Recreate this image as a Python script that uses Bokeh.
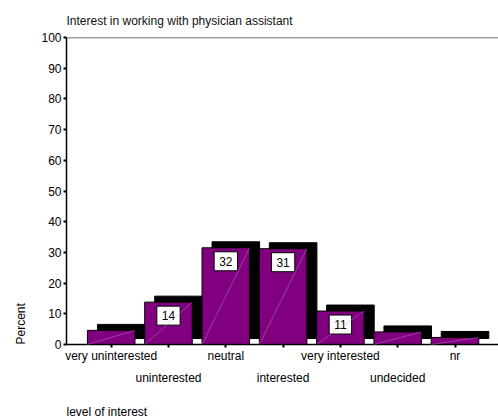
from bokeh.plotting import figure
from bokeh.models import (Range1d, LinearAxis, FixedTicker, Span, Label, Title,
                          ColumnDataSource)
from bokeh.embed import file_html
from bokeh.resources import INLINE

# ---- data ----
categories = ["very uninterested", "uninterested", "neutral", "interested",
              "very interested", "undecided", "nr"]
percent = [4.6, 13.8, 31.5, 31.2, 10.9, 4.1, 2.3]
value_labels = ["", "14", "32", "31", "11", "", ""]
y_ticks = [0, 10, 20, 30, 40, 50, 60, 70, 80, 90, 100]

chart_title = "Interest in working with physician assistant"
x_title = "level of interest"
y_title = "Percent"

# ---- style ----
FONT = "Liberation Sans"
PURPLE = "#800080"
BAR_W = 0.83      # bar width (category units)
DX = 0.175        # 3-D depth offset, x (category units)
DY = 1.95         # 3-D depth offset, y (percent units)

n = len(categories)
xs = list(range(1, n + 1))
X_START, X_END = 0.22, 7.759

src = ColumnDataSource(dict(
    x=xs,
    top=percent,
    left=[x - BAR_W / 2 for x in xs],
    right=[x + BAR_W / 2 for x in xs],
    sleft=[x - BAR_W / 2 + DX for x in xs],
    sright=[x + BAR_W / 2 + DX for x in xs],
    sbottom=[DY] * n,
    stop=[v + DY for v in percent],
    zero=[0] * n,
))

p = figure(width=498, height=420, title=None,
           x_range=Range1d(X_START, X_END), y_range=Range1d(0, 100),
           output_backend="svg", toolbar_location=None,
           min_border_left=66, min_border_right=0,
           min_border_top=37, min_border_bottom=76)
p.outline_line_color = None
p.grid.visible = False
p.background_fill_color = "white"
p.border_fill_color = "white"

# shadow (depth) boxes
p.quad(left="sleft", right="sright", bottom="sbottom", top="stop",
       fill_color="black", line_color="black", line_width=1, source=src)
# front bars
p.quad(left="left", right="right", bottom="zero", top="top",
       fill_color=PURPLE, line_color="black", line_width=1, source=src)

# value labels
for x, v, t in zip(xs, percent, value_labels):
    if t:
        p.add_layout(Label(x=x, y=v, text=t, text_align="center",
                           text_baseline="top", y_offset=-4,
                           text_font=FONT, text_font_size="12px",
                           text_color="black",
                           background_fill_color="white",
                           border_line_color="black", border_line_width=1,
                           padding=5))

# faint diagonal rendering lines across the front faces
diag = p.segment(x0="left", y0="zero", x1="right", y1="top",
                 line_color="#d890d8", line_width=0.5, line_alpha=0.8,
                 source=src)
diag.level = "overlay"

# top frame line
p.add_layout(Span(location=100, dimension="width", line_color="#444444",
                  line_width=1.5))

# y axis
ya = p.yaxis[0]
ya.ticker = FixedTicker(ticks=y_ticks)
ya.minor_tick_line_color = None
ya.major_tick_in = 0
ya.major_tick_out = 3
ya.major_tick_line_width = 2
ya.major_label_standoff = 2
ya.major_label_text_font = FONT
ya.major_label_text_font_size = "12px"
ya.major_label_text_color = "black"
ya.axis_line_width = 1.5
ya.axis_line_color = "black"

# x axis, first row of labels (odd categories)
xa = p.xaxis[0]
xa.ticker = FixedTicker(ticks=xs)
xa.major_label_overrides = {x: (c if i % 2 == 0 else "")
                            for i, (x, c) in enumerate(zip(xs, categories))}
xa.minor_tick_line_color = None
xa.major_tick_in = 0
xa.major_tick_out = 3
xa.major_tick_line_width = 2
xa.major_label_standoff = 1
xa.major_label_text_font = FONT
xa.major_label_text_font_size = "12px"
xa.major_label_text_color = "black"
xa.axis_line_width = 1.5
xa.axis_line_color = "black"

# x axis, second row of labels (even categories)
xa2 = LinearAxis(ticker=FixedTicker(ticks=xs),
                 major_label_overrides={x: (c if i % 2 == 1 else "")
                                        for i, (x, c) in enumerate(zip(xs, categories))},
                 axis_line_color=None, major_tick_line_color=None,
                 minor_tick_line_color=None, major_tick_in=0, major_tick_out=0,
                 major_label_standoff=5,
                 major_label_text_font=FONT, major_label_text_font_size="12px",
                 major_label_text_color="black")
p.add_layout(xa2, "below")

# x title, left aligned at the bottom (leading blank line pushes it down)
p.add_layout(Title(text="\n" + x_title, align="left", text_font=FONT,
                   text_font_size="12px", text_font_style="normal",
                   text_color="black", standoff=3), "below")

# chart title, left aligned at the top
p.add_layout(Title(text=chart_title, align="left", text_font=FONT,
                   text_font_size="12px", text_font_style="normal",
                   text_color="#111111", standoff=20), "above")

# y title, placed at the bottom of the axis
p.add_layout(Title(text=y_title, align="left", text_font=FONT,
                   text_font_size="12px", text_font_style="normal",
                   text_color="black", standoff=22), "left")

open("out.html", "w").write(file_html(p, INLINE))
